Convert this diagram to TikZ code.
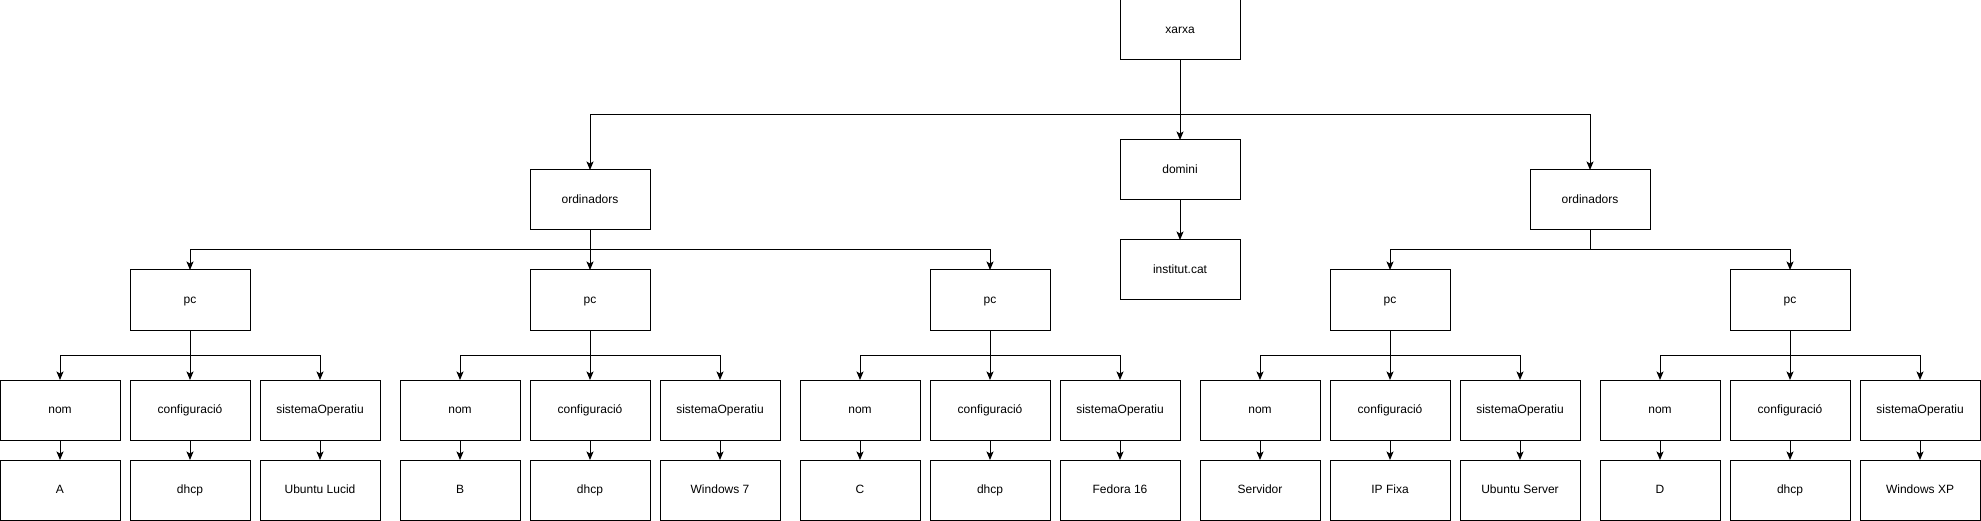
\documentclass[tikz,border=0pt]{standalone}
\usepackage{fontspec}
\setmainfont{Liberation Sans}
\usepackage{tikz}
\usetikzlibrary{arrows.meta}
\usetikzlibrary{positioning}
\tikzset{>={Stealth[length=8.5pt, width=7pt, inset=2pt]}}
\tikzset{caixa/.style={draw, rectangle, line width=1pt, minimum width=120pt, minimum height=60pt, inner sep=0pt, outer sep=0pt, text height=9.5pt, text depth=2.5pt, font=\fontsize{12pt}{14pt}\selectfont}}

\begin{document}
\begin{tikzpicture}[x=1pt, y=1pt, line width=1pt, node distance=20pt]
        \useasboundingbox (0,0) rectangle (1981,-521);

        \node [caixa] (Xarxa) at (1180,-30) {xarxa};
        \node [caixa, below=80pt of Xarxa] (Domini) {domini};
        \node [caixa, below=40pt of Domini] (Institut) {institut.cat};

        \node [caixa] (LeftOrd) at (590,-200) {ordinadors};
        \node [caixa] (RightOrd) at (1590,-200) {ordinadors};

        \node [caixa, below=40pt of LeftOrd] (PcB) {pc};
        \node [caixa, left=280pt of PcB] (PcA) {pc};
        \node [caixa, right=280pt of PcB] (PcC) {pc};
        \node [caixa, below=40pt of RightOrd, xshift=-200pt] (PcD) {pc};
        \node [caixa, below=40pt of RightOrd, xshift=200pt] (PcE) {pc};

        % primer pc
        \node [caixa, below=50pt of PcA] (ConfA) {configuració};
        \node [caixa, left=10pt of ConfA] (NomA) {nom};
        \node [caixa, right=10pt of ConfA] (SistA) {sistemaOperatiu};
        \node [caixa, below=of NomA] (NomAValue) {A};
        \node [caixa, below=of ConfA] (ConfAValue) {dhcp};
        \node [caixa, below=of SistA] (SistAValue) {Ubuntu Lucid};

        % segon pc
        \node [caixa, below=50pt of PcB] (ConfB) {configuració};
        \node [caixa, left=10pt of ConfB] (NomB) {nom};
        \node [caixa, right=10pt of ConfB] (SistB) {sistemaOperatiu};
        \node [caixa, below=of NomB] (NomBValue) {B};
        \node [caixa, below=of ConfB] (ConfBValue) {dhcp};
        \node [caixa, below=of SistB] (SistBValue) {Windows 7};

        % tercer pc
        \node [caixa, below=50pt of PcC] (ConfC) {configuració};
        \node [caixa, left=10pt of ConfC] (NomC) {nom};
        \node [caixa, right=10pt of ConfC] (SistC) {sistemaOperatiu};
        \node [caixa, below=of NomC] (NomCValue) {C};
        \node [caixa, below=of ConfC] (ConfCValue) {dhcp};
        \node [caixa, below=of SistC] (SistCValue) {Fedora 16};

        % servidor
        \node [caixa, below=50pt of PcD] (ConfD) {configuració};
        \node [caixa, left=10pt of ConfD] (NomD) {nom};
        \node [caixa, right=10pt of ConfD] (SistD) {sistemaOperatiu};
        \node [caixa, below=of NomD] (NomDValue) {Servidor};
        \node [caixa, below=of ConfD] (ConfDValue) {IP Fixa};
        \node [caixa, below=of SistD] (SistDValue) {Ubuntu Server};

        % darrer pc
        \node [caixa, below=50pt of PcE] (ConfE) {configuració};
        \node [caixa, left=10pt of ConfE] (NomE) {nom};
        \node [caixa, right=10pt of ConfE] (SistE) {sistemaOperatiu};
        \node [caixa, below=of NomE] (NomEValue) {D};
        \node [caixa, below=of ConfE] (ConfEValue) {dhcp};
        \node [caixa, below=of SistE] (SistEValue) {Windows XP};

        \draw [->] (Xarxa)--(Domini);
        \draw [->] (Domini)--(Institut);
        \draw [->] (Xarxa.south)--++(0,-55)-|(LeftOrd.north);
        \draw [->] (Xarxa.south)--++(0,-55)-|(RightOrd.north);

        \draw [->] (LeftOrd.south)--++(0,-20)-|(PcA.north);
        \draw [->] (LeftOrd)--(PcB);
        \draw [->] (LeftOrd.south)--++(0,-20)-|(PcC.north);
        \draw [->] (RightOrd.south)--++(0,-20)-|(PcD.north);
        \draw [->] (RightOrd.south)--++(0,-20)-|(PcE.north);

        \draw [->] (PcA.south)--++(0,-25)-|(NomA.north);
        \draw [->] (PcA)--(ConfA);
        \draw [->] (PcA.south)--++(0,-25)-|(SistA.north);
        \draw [->] (PcB.south)--++(0,-25)-|(NomB.north);
        \draw [->] (PcB)--(ConfB);
        \draw [->] (PcB.south)--++(0,-25)-|(SistB.north);
        \draw [->] (PcC.south)--++(0,-25)-|(NomC.north);
        \draw [->] (PcC)--(ConfC);
        \draw [->] (PcC.south)--++(0,-25)-|(SistC.north);
        \draw [->] (PcD.south)--++(0,-25)-|(NomD.north);
        \draw [->] (PcD)--(ConfD);
        \draw [->] (PcD.south)--++(0,-25)-|(SistD.north);
        \draw [->] (PcE.south)--++(0,-25)-|(NomE.north);
        \draw [->] (PcE)--(ConfE);
        \draw [->] (PcE.south)--++(0,-25)-|(SistE.north);

        \draw [->] (NomA)--(NomAValue);
        \draw [->] (ConfA)--(ConfAValue);
        \draw [->] (SistA)--(SistAValue);
        \draw [->] (NomB)--(NomBValue);
        \draw [->] (ConfB)--(ConfBValue);
        \draw [->] (SistB)--(SistBValue);
        \draw [->] (NomC)--(NomCValue);
        \draw [->] (ConfC)--(ConfCValue);
        \draw [->] (SistC)--(SistCValue);
        \draw [->] (NomD)--(NomDValue);
        \draw [->] (ConfD)--(ConfDValue);
        \draw [->] (SistD)--(SistDValue);
        \draw [->] (NomE)--(NomEValue);
        \draw [->] (ConfE)--(ConfEValue);
        \draw [->] (SistE)--(SistEValue);
    \end{tikzpicture}
\end{document}
